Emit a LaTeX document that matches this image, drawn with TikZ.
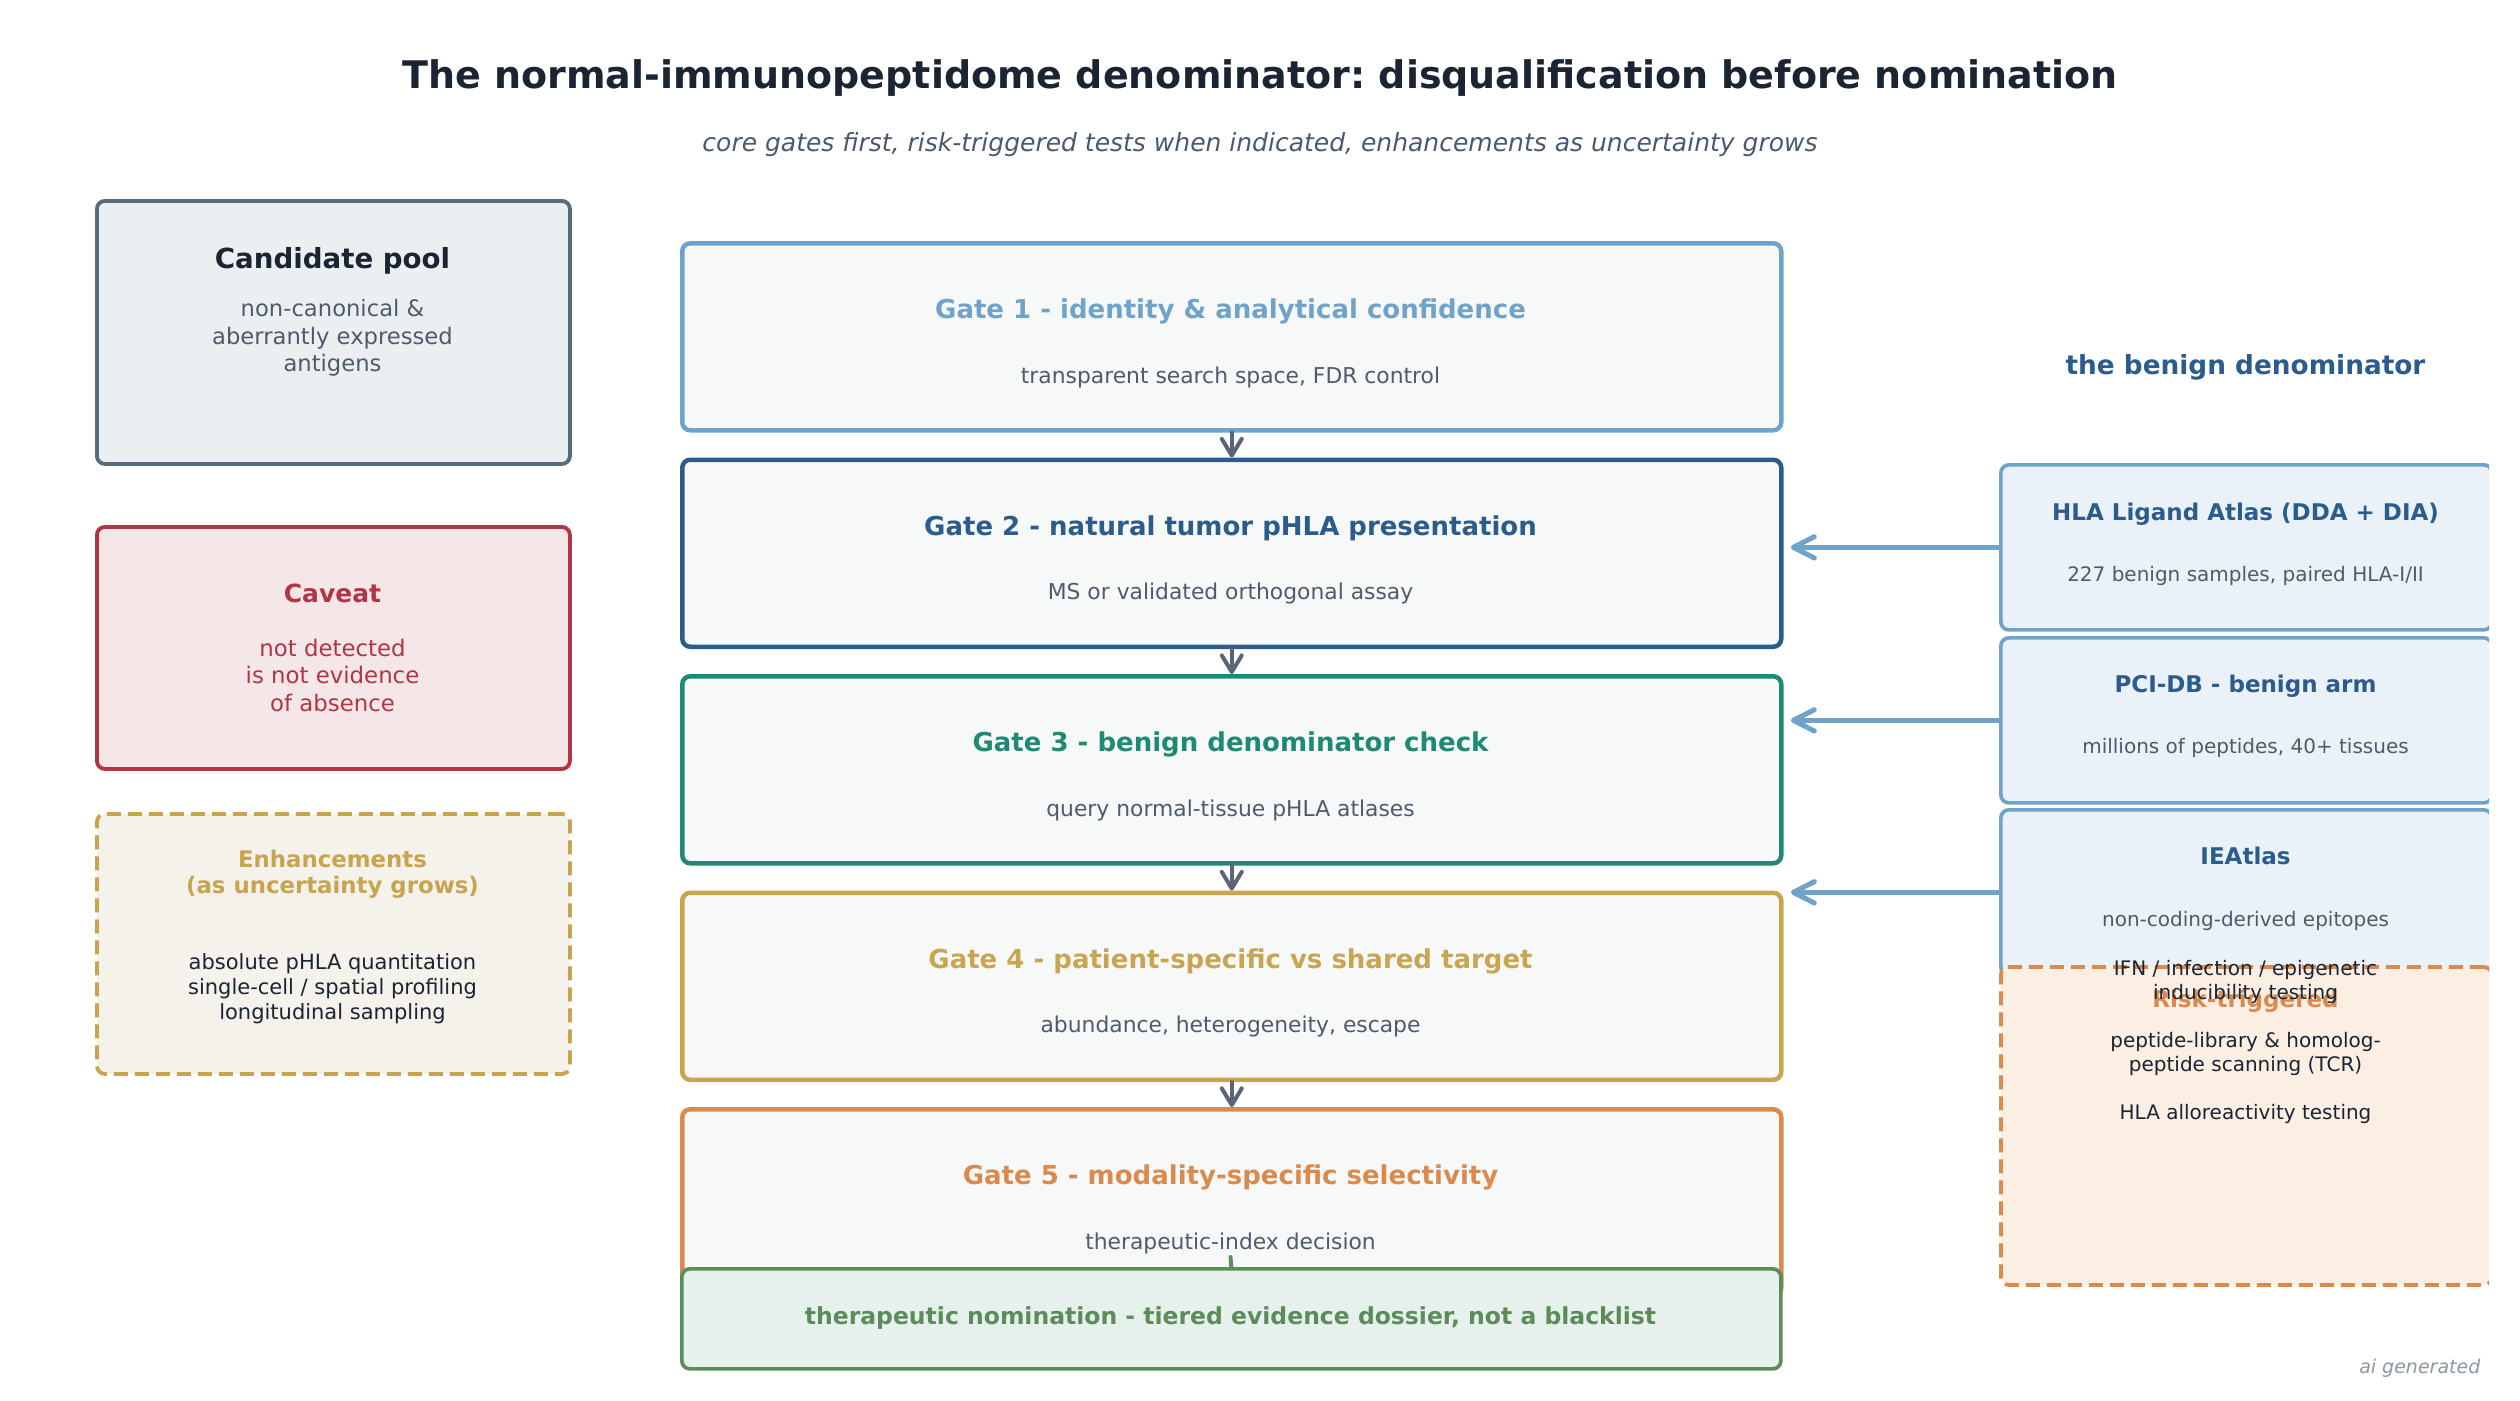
\documentclass[tikz,border=0pt]{standalone}
\usepackage{fontspec}
\setmainfont{DejaVu Sans}
\usetikzlibrary{arrows.meta}
\frenchspacing
\definecolor{titlec}{HTML}{1A2433}
\definecolor{subc}{HTML}{4A5A6E}
\definecolor{bodyc}{HTML}{4F5B6B}
\definecolor{candb}{HTML}{5A6A7D}
\definecolor{candf}{HTML}{ECEFF2}
\definecolor{cavc}{HTML}{B23545}
\definecolor{cavf}{HTML}{F5E6E8}
\definecolor{enhc}{HTML}{C9A44F}
\definecolor{enhf}{HTML}{F5F2EB}
\definecolor{gonec}{HTML}{6FA3C9}
\definecolor{gtwoc}{HTML}{2B5C8C}
\definecolor{gthreec}{HTML}{1E8A74}
\definecolor{gfourc}{HTML}{C9A552}
\definecolor{gfivec}{HTML}{DB8A4E}
\definecolor{gatef}{HTML}{F7F9F9}
\definecolor{nomc}{HTML}{5B8C5A}
\definecolor{nomf}{HTML}{E6F1EE}
\definecolor{benf}{HTML}{EAF1F8}
\definecolor{riskf}{HTML}{FBEEE2}
\definecolor{arrc}{HTML}{5A6577}
\definecolor{aic}{HTML}{8E98A3}
\begin{document}
\frenchspacing
\begin{tikzpicture}[x=0.3pt,y=-0.3pt,
  box/.style={rectangle, rounded corners=2.4pt, inner sep=0pt, anchor=north west},
  gatebox/.style={box, fill=gatef, line width=1.35pt, minimum width=329.7pt, minimum height=56.1pt},
  leftbox/.style={box, line width=1.15pt, minimum width=141.9pt},
  benbox/.style={box, fill=benf, draw=gonec, line width=1.1pt, minimum width=147.3pt, minimum height=49.5pt},
  txt/.style={inner sep=0pt, anchor=base},
  gtitle/.style={txt, font=\fontsize{7.8}{9.4}\selectfont\bfseries},
  gsub/.style={txt, text=bodyc, font=\fontsize{6.55}{7.9}\selectfont},
  btitle/.style={txt, text=gtwoc, font=\fontsize{6.9}{8.3}\selectfont\bfseries},
  bsub/.style={txt, text=bodyc, font=\fontsize{6.0}{7.2}\selectfont},
  gatearrow/.style={draw=arrc, line width=1.2pt, line cap=round, -{Straight Barb[round,length=5pt,width=6pt]}},
  benarrow/.style={draw=gonec, line width=1.5pt, line cap=round, shorten >=2.2pt, -{Straight Barb[round,length=6.3pt,width=6.4pt]}},
]
\useasboundingbox (0,0) rectangle (2520,1400);
\fill[white] (0,0) rectangle (2520,1400);

% title
\node[txt, text=titlec, font=\fontsize{11.4}{13.7}\selectfont\bfseries] (title) at (1260,88.5)
  {The normal-immunopeptidome denominator: disqualification before nomination};
\node[txt, text=subc, font=\fontsize{7.5}{9}\selectfont\itshape] (subtitle) at (1260,151)
  {core gates first, risk-triggered tests when indicated, enhancements as uncertainty grows};

% left column
\node[leftbox, draw=candb, fill=candf, minimum height=78.9pt] (cand) at (95,199) {};
\node[txt, text=titlec, font=\fontsize{8.3}{10}\selectfont\bfseries] (candt) at (332.5,268) {Candidate pool};
\node[inner sep=0pt, align=center, text=bodyc, font=\fontsize{6.8}{8.2}\selectfont] (candb) at (332.5,338)
  {non-canonical \&\\aberrantly expressed\\antigens};

\node[leftbox, draw=cavc, fill=cavf, minimum height=72.6pt] (cav) at (95,525) {};
\node[txt, text=cavc, font=\fontsize{7.5}{9}\selectfont\bfseries] (cavt) at (332.5,602.5) {Caveat};
\node[inner sep=0pt, align=center, text=cavc, font=\fontsize{6.85}{8.25}\selectfont] (cavb) at (332.5,675)
  {not detected\\is not evidence\\of absence};

\node[leftbox, draw=enhc, fill=enhf, dash pattern=on 4.2pt off 2.1pt, minimum height=78pt] (enh) at (95,812) {};
\node[inner sep=0pt, align=center, text=enhc, font=\fontsize{6.85}{7.8}\selectfont\bfseries] (enht) at (332.5,874)
  {Enhancements\\(as uncertainty grows)};
\node[inner sep=0pt, align=center, text=titlec, font=\fontsize{6.3}{7.5}\selectfont] (enhb) at (332.5,989)
  {absolute pHLA quantitation\\single-cell / spatial profiling\\longitudinal sampling};

% gates
\node[gatebox, draw=gonec] (g1) at (680,241) {};
\node[gatebox, draw=gtwoc] (g2) at (680,457.5) {};
\node[gatebox, draw=gthreec] (g3) at (680,674) {};
\node[gatebox, draw=gfourc] (g4) at (680,890.5) {};
\node[gatebox, draw=gfivec] (g5) at (680,1107) {};

\node[gtitle, text=gonec] (g1t) at (1230.5,318.5) {Gate 1 - identity \& analytical confidence};
\node[gsub] (g1s) at (1230.5,383) {transparent search space, FDR control};
\node[gtitle, text=gtwoc] (g2t) at (1230.5,535) {Gate 2 - natural tumor pHLA presentation};
\node[gsub] (g2s) at (1230.5,599.5) {MS or validated orthogonal assay};
\node[gtitle, text=gthreec] (g3t) at (1230.5,751.5) {Gate 3 - benign denominator check};
\node[gsub] (g3s) at (1230.5,816) {query normal-tissue pHLA atlases};
\node[gtitle, text=gfourc] (g4t) at (1230.5,968) {Gate 4 - patient-specific vs shared target};
\node[gsub] (g4s) at (1230.5,1032.5) {abundance, heterogeneity, escape};
\node[gtitle, text=gfivec] (g5t) at (1230.5,1184.5) {Gate 5 - modality-specific selectivity};
\node[gsub] (g5s) at (1230.5,1249) {therapeutic-index decision};

\draw[gatearrow] (g1.south) -- (g2.north);
\draw[gatearrow] (g2.south) -- (g3.north);
\draw[gatearrow] (g3.south) -- (g4.north);
\draw[gatearrow] (g4.south) -- (g5.north);

% nomination
\node[box, draw=nomc, fill=nomf, line width=1.1pt, minimum width=329.7pt, minimum height=30pt] (nom) at (680,1267) {};
\node[txt, text=nomc, font=\fontsize{7.05}{8.5}\selectfont\bfseries] (nomt) at (1230.5,1324)
  {therapeutic nomination - tiered evidence dossier, not a blacklist};
\coordinate (stubtop) at (1230.5,1257);
\draw[draw=nomc, line width=1.2pt, line cap=round] (stubtop) -- (nom.north);

% right column
\node[txt, text=gtwoc, font=\fontsize{7.9}{9.5}\selectfont\bfseries] (bent) at (2245.5,374) {the benign denominator};
\begin{scope}
  \clip (1980,300) rectangle (2489,1330);
  \node[benbox] (hla) at (1999,463) {};
  \node[benbox] (pci) at (1999,636) {};
  \node[benbox] (iea) at (1999,808) {};
  \node[box, draw=gfivec, fill=riskf, line width=1.15pt, dash pattern=on 4.2pt off 2.1pt, minimum width=147.3pt, minimum height=95.4pt] (risk) at (1999,965) {};
\end{scope}
\node[btitle] (hlat) at (2245.5,520) {HLA Ligand Atlas (DDA + DIA)};
\node[bsub] (hlas) at (2245.5,581) {227 benign samples, paired HLA-I/II};
\node[btitle] (pcit) at (2245.5,692) {PCI-DB - benign arm};
\node[bsub] (pcis) at (2245.5,753) {millions of peptides, 40+ tissues};
\node[btitle] (ieat) at (2245.5,864) {IEAtlas};
\node[bsub] (ieas) at (2245.5,926) {non-coding-derived epitopes};
\node[btitle, text=gfivec] (riskt) at (2245.5,1007) {Risk-triggered};
\node[inner sep=0pt, align=center, text=titlec, font=\fontsize{6.0}{7.2}\selectfont] (riskb) at (2245.5,1042)
  {IFN / infection / epigenetic\\inducibility testing\\[7.2pt]peptide-library \& homolog-\\peptide scanning (TCR)\\[7.2pt]HLA alloreactivity testing};

\draw[benarrow] (hla.west) -- (hla.west -| g2.east);
\draw[benarrow] (pci.west) -- (pci.west -| g3.east);
\draw[benarrow] (iea.west) -- (iea.west -| g4.east);

\node[inner sep=0pt, anchor=base east, text=aic, font=\fontsize{5.7}{6.8}\selectfont\itshape] (ai) at (2481,1373) {ai generated};
\end{tikzpicture}
\end{document}
